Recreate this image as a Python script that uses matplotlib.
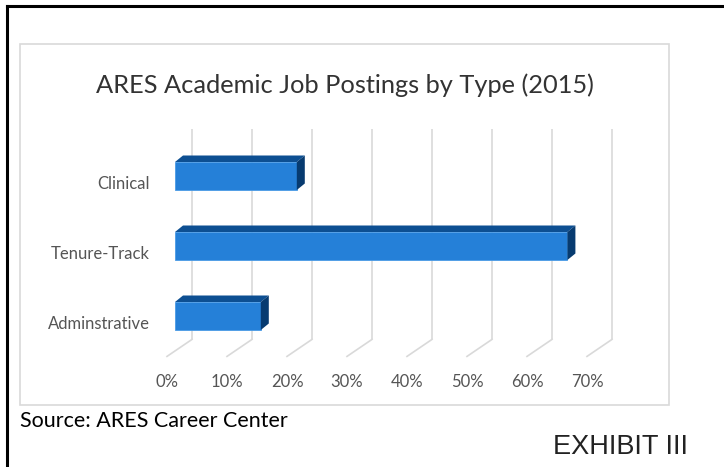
import matplotlib
matplotlib.use('Agg')
import matplotlib.pyplot as plt
import matplotlib.transforms as mtransforms
from matplotlib.patches import Polygon, Rectangle
from matplotlib.lines import Line2D

categories = ['Clinical', 'Tenure-Track', 'Adminstrative']
shares = [20.3, 65.4, 14.3]          # percent of postings
ticks = [0, 10, 20, 30, 40, 50, 60, 70]
tick_labels = ['%d%%' % t for t in ticks]

title = 'ARES Academic Job Postings by Type (2015)'
source = 'Source: ARES Career Center'
exhibit = 'EXHIBIT III'

W, H, DPI = 724, 467, 100
font = 'Lato'

fig = plt.figure(figsize=(W / DPI, H / DPI), dpi=DPI)
fig.patch.set_facecolor('white')

# axes = the plane of the bar fronts
ax = fig.add_axes([175 / W, 116 / H, 420 / W, 210 / H])
ax.set_xlim(0, 70)
ax.set_ylim(-0.5, 2.5)
ax.axis('off')


def px2data(dx, dy):
    inv = ax.transData.inverted()
    x0, y0 = inv.transform((0, 0))
    x1, y1 = inv.transform((dx, dy))
    return x1 - x0, y1 - y0


def shifted(dx, dy):
    return mtransforms.offset_copy(ax.transData, fig=fig, x=dx, y=dy, units='dots')


back = (17, 11.6)     # back wall offset from bar front, pixels
front = (-8, -5.4)    # front floor edge offset
depth = (8, 6.5)      # bar depth

# gridlines on back wall + floor diagonals
grid_c = '#d9d9d9'
ax.vlines(ticks, -0.5, 2.5, colors=grid_c, lw=1.2, transform=shifted(*back), clip_on=False)
bx, by = px2data(*back)
fx, fy = px2data(*front)
for t in ticks:
    ax.add_line(Line2D([t + bx, t + fx], [-0.5 + by, -0.5 + fy], color=grid_c, lw=1.2,
                       clip_on=False))

# bars
ypos = [2, 1, 0]
h = 0.4
c_front, c_top, c_side = '#2580d8', '#0d4f92', '#073b70'
ax.barh(ypos, shares, height=h, color=c_front, edgecolor='#4a9be6', lw=0.6, zorder=3)
ddx, ddy = px2data(*depth)
for y, v in zip(ypos, shares):
    top = y + h / 2
    bot = y - h / 2
    ax.add_patch(Polygon([(0, top), (v, top), (v + ddx, top + ddy), (ddx, top + ddy)],
                         closed=True, fc=c_top, ec='none', zorder=3, clip_on=False))
    ax.add_patch(Polygon([(v, bot), (v, top), (v + ddx, top + ddy), (v + ddx, bot + ddy)],
                         closed=True, fc=c_side, ec='none', zorder=3, clip_on=False))

# category labels
for y, lab in zip(ypos, categories):
    ax.text(0, y, lab, transform=shifted(-25, -8), ha='right', va='center',
            fontsize=12, color='#555555', family=font)

# x tick labels on the front floor edge
for t, lab in zip(ticks, tick_labels):
    ax.text(t, -0.5, lab, transform=shifted(-8, -31), ha='center', va='center',
            fontsize=12, color='#555555', family=font)

# chart box
fig.add_artist(Rectangle((20 / W, 1 - 405 / H), 649 / W, 361 / H, transform=fig.transFigure,
                         fill=False, ec='#d9d9d9', lw=1.2))

fig.text(345 / W, 1 - 85 / H, title, ha='center', va='center', fontsize=18.3,
         color='#333333', family=font)
fig.text(20 / W, 1 - 421 / H, source, ha='left', va='center', fontsize=15.5,
         color='black', family=font)
fig.text(688 / W, 1 - 447 / H, exhibit, ha='right', va='center', fontsize=19.5,
         color='#222222', family='Liberation Sans')

# outer black frame (left and top)
fig.add_artist(Line2D([7 / W, 7 / W], [0, 1 - 6 / H], transform=fig.transFigure,
                      color='black', lw=2.2))
fig.add_artist(Line2D([7 / W, 1], [1 - 6 / H, 1 - 6 / H], transform=fig.transFigure,
                      color='black', lw=2.2))

fig.savefig('out.png', dpi=DPI)
